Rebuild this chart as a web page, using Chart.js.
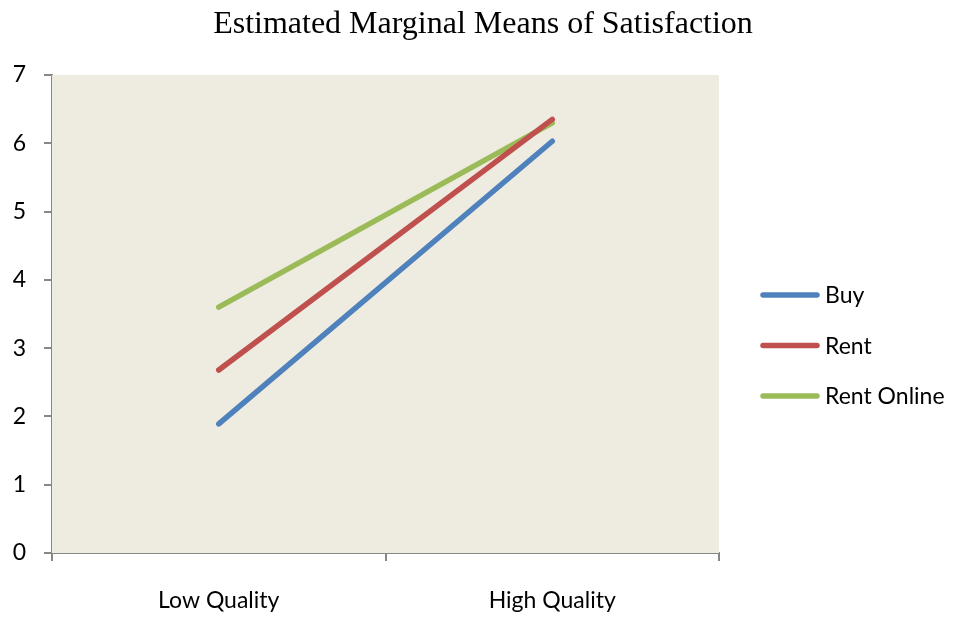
<!DOCTYPE html>
<html>
<head>
<meta charset="utf-8">
<script src="https://cdn.jsdelivr.net/npm/chart.js@4/dist/chart.umd.min.js"></script>
<style>
  html, body { margin: 0; padding: 0; background: #ffffff; }
  #wrap { width: 956px; height: 617px; position: relative; }
</style>
</head>
<body>
<div id="wrap"><canvas id="chart"></canvas></div>
<script>
// Estimated marginal means by product quality and acquisition mode
const categories = ['Low Quality', 'High Quality'];
const seriesNames = ['Buy', 'Rent', 'Rent Online'];
const buyValues = [1.89, 6.03];
const rentValues = [2.68, 6.35];
const rentOnlineValues = [3.60, 6.30];
const yTicks = [0, 1, 2, 3, 4, 5, 6, 7];
const titleText = 'Estimated Marginal Means of Satisfaction';

const colors = ['#4F81BD', '#C0504D', '#9BBB59'];
const values = [buyValues, rentValues, rentOnlineValues];
const labelFont = { family: 'Lato, "Open Sans", sans-serif', size: 23 };

const datasets = seriesNames.map((name, i) => ({
  label: name,
  data: values[i],
  borderColor: colors[i],
  backgroundColor: colors[i],
  borderWidth: 5.5,
  borderCapStyle: 'round',
  pointRadius: 0,
  pointHoverRadius: 0,
  tension: 0,
  fill: false
}));

// Plot background, title and right-hand legend
const decorations = {
  id: 'decorations',
  beforeDatasetsDraw(chart) {
    const { ctx, chartArea: a } = chart;
    ctx.save();
    ctx.fillStyle = '#EEEBE0';
    ctx.fillRect(a.left, a.top, a.right - a.left, a.bottom - a.top);
    ctx.restore();
  },
  afterDraw(chart) {
    const ctx = chart.ctx;
    ctx.save();
    ctx.fillStyle = '#000';
    ctx.font = '32px "Liberation Serif", "Times New Roman", serif';
    ctx.textAlign = 'center';
    ctx.textBaseline = 'middle';
    ctx.fillText(titleText, 483, 25);

    ctx.font = labelFont.size + 'px ' + labelFont.family;
    ctx.textAlign = 'left';
    chart.data.datasets.forEach((ds, i) => {
      const y = 295 + i * 50.5;
      ctx.strokeStyle = ds.borderColor;
      ctx.lineWidth = 5.5;
      ctx.lineCap = 'round';
      ctx.beginPath();
      ctx.moveTo(763, y);
      ctx.lineTo(817, y);
      ctx.stroke();
      ctx.fillStyle = '#000';
      ctx.fillText(ds.label, 825, y + 1);
    });
    ctx.restore();
  }
};

new Chart(document.getElementById('chart'), {
  type: 'line',
  data: { labels: categories, datasets },
  plugins: [decorations],
  options: {
    responsive: true,
    maintainAspectRatio: false,
    animation: false,
    layout: { padding: { top: 75, right: 237, left: 0, bottom: 0 } },
    plugins: {
      legend: { display: false },
      title: { display: false },
      tooltip: { enabled: false }
    },
    scales: {
      x: {
        offset: true,
        grid: {
          offset: true,
          drawOnChartArea: false,
          drawTicks: true,
          tickLength: 8,
          color: '#878787',
          lineWidth: 2
        },
        border: { color: '#878787', width: 2 },
        ticks: { color: '#000', font: labelFont, padding: 26, maxRotation: 0 },
        afterFit(scale) { scale.height = 64; }
      },
      y: {
        min: 0,
        max: 7,
        afterBuildTicks(scale) { scale.ticks = yTicks.map(v => ({ value: v })); },
        grid: {
          drawOnChartArea: false,
          drawTicks: true,
          tickLength: 8,
          color: '#878787',
          lineWidth: 2
        },
        border: { color: '#878787', width: 2 },
        ticks: { color: '#000', font: labelFont, padding: 18 },
        afterFit(scale) { scale.width = 52; }
      }
    }
  }
});
</script>
</body>
</html>
